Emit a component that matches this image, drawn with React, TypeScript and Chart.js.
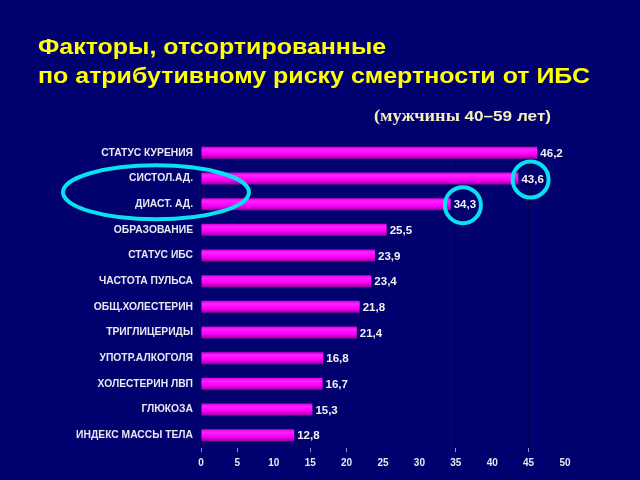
import React, { useEffect, useRef } from "react";
import { Chart, registerables } from "chart.js";

Chart.register(...registerables);

const categories = [
  "СТАТУС КУРЕНИЯ",
  "СИСТОЛ.АД.",
  "ДИАСТ. АД.",
  "ОБРАЗОВАНИЕ",
  "СТАТУС ИБС",
  "ЧАСТОТА ПУЛЬСА",
  "ОБЩ.ХОЛЕСТЕРИН",
  "ТРИГЛИЦЕРИДЫ",
  "УПОТР.АЛКОГОЛЯ",
  "ХОЛЕСТЕРИН ЛВП",
  "ГЛЮКОЗА",
  "ИНДЕКС МАССЫ ТЕЛА",
];
const values = [46.2, 43.6, 34.3, 25.5, 23.9, 23.4, 21.8, 21.4, 16.8, 16.7, 15.3, 12.8];
const circledIndices = [1, 2];
const ellipseIndices = [1, 2];
const titleLines = ["Факторы, отсортированные", "по атрибутивному риску смертности от ИБС"];
const subtitleSerif = "(мужчины ";
const subtitleSans = "40–59 лет)";
const xMin = 0;
const xMax = 50;
const xStep = 5;
const gridValues = [35, 45];
const tickMarkValues = [0, 5, 15, 20, 35, 45];

const BG = "#00006e";
const CYAN = "#08e2f0";
const LABEL = "#e8e8f2";
const SANS = "Arial, 'Liberation Sans', sans-serif";
const SERIF = "'Liberation Serif', 'Times New Roman', serif";

const fmt = (v: number) => v.toFixed(1).replace(".", ",");

const decorPlugin = {
  id: "decor",
  beforeDraw(chart: any) {
    const ctx = chart.ctx;
    ctx.save();
    ctx.fillStyle = BG;
    ctx.fillRect(0, 0, chart.width, chart.height);
    ctx.textBaseline = "alphabetic";
    ctx.textAlign = "left";
    // title
    ctx.fillStyle = "#ffff00";
    ctx.font = `bold 22px ${SANS}`;
    const tw = ctx.measureText(titleLines[1]).width;
    const sx = 552 / tw;
    ctx.save();
    ctx.translate(38, 0);
    ctx.scale(sx, 1);
    ctx.fillText(titleLines[0], 0, 54);
    ctx.fillText(titleLines[1], 0, 83);
    ctx.restore();
    // subtitle
    ctx.fillStyle = "#f4f0c0";
    ctx.font = `bold 16px ${SERIF}`;
    const w1 = ctx.measureText(subtitleSerif).width;
    ctx.font = `bold 15px ${SANS}`;
    const w2 = ctx.measureText(subtitleSans).width;
    const ss = 177 / (w1 + w2);
    ctx.save();
    ctx.translate(374, 0);
    ctx.scale(ss, 1);
    ctx.font = `bold 16px ${SERIF}`;
    ctx.fillText(subtitleSerif, 0, 121);
    ctx.font = `bold 15px ${SANS}`;
    ctx.fillText(subtitleSans, w1, 121);
    ctx.restore();
    ctx.restore();
  },
  afterDatasetsDraw(chart: any) {
    const ctx = chart.ctx;
    const meta = chart.getDatasetMeta(0);
    ctx.save();
    ctx.font = `bold 11.5px ${SANS}`;
    ctx.fillStyle = "#f2f2f2";
    ctx.textBaseline = "middle";
    ctx.textAlign = "left";
    const centers: number[] = [];
    meta.data.forEach((el: any, i: number) => {
      const t = fmt(values[i]);
      const x = el.x + 3;
      ctx.fillText(t, x, el.y + 1);
      centers[i] = x + ctx.measureText(t).width / 2;
    });
    ctx.strokeStyle = CYAN;
    ctx.lineWidth = 4;
    circledIndices.forEach((i) => {
      const el = meta.data[i];
      ctx.beginPath();
      ctx.arc(centers[i] - 2, el.y + 1, 18, 0, Math.PI * 2);
      ctx.stroke();
    });
    const ys = ellipseIndices.map((i) => meta.data[i].y);
    const cy = (ys[0] + ys[ys.length - 1]) / 2;
    ctx.beginPath();
    ctx.ellipse(156, cy + 1, 93, 27, 0, 0, Math.PI * 2);
    ctx.stroke();
    ctx.restore();
  },
};

export default function App() {
  const ref = useRef<HTMLCanvasElement>(null);
  useEffect(() => {
    if (!ref.current) return;
    const chart = new Chart(ref.current, {
      type: "bar",
      data: {
        labels: categories,
        datasets: [
          {
            data: values,
            backgroundColor: (c: any) => {
              const chartRef = c.chart;
              const ys = chartRef.scales?.y;
              if (!chartRef.chartArea || !ys) return "#ff00ff";
              const cy = ys.getPixelForValue(c.dataIndex);
              const g = chartRef.ctx.createLinearGradient(0, cy - 6, 0, cy + 6);
              g.addColorStop(0, "#d800d8");
              g.addColorStop(0.25, "#ff20ff");
              g.addColorStop(0.6, "#ff00ff");
              g.addColorStop(1, "#9a009a");
              return g;
            },
            borderWidth: 0,
            barPercentage: 0.47,
            categoryPercentage: 1,
          },
        ],
      },
      options: {
        indexAxis: "y",
        responsive: false,
        animation: false,
        layout: { padding: { top: 140, right: 75, left: 0, bottom: 0 } },
        plugins: { legend: { display: false }, tooltip: { enabled: false }, title: { display: false } },
        scales: {
          x: {
            min: xMin,
            max: xMax,
            ticks: {
              stepSize: xStep,
              color: LABEL,
              font: { family: SANS, size: 10, weight: "bold" },
              padding: 5,
            },
            grid: {
              color: (c: any) => (gridValues.includes(c.tick?.value) ? "#00004c" : "transparent"),
              tickColor: (c: any) => (tickMarkValues.includes(c.tick?.value) ? "#9090c0" : "transparent"),
              tickLength: 4,
              lineWidth: 1,
            },
            border: { display: false },
            afterFit: (s: any) => {
              s.height = 32;
            },
          },
          y: {
            ticks: {
              color: LABEL,
              font: { family: SANS, size: 10.3, weight: "bold" },
              padding: 8,
            },
            grid: { display: false, drawTicks: false },
            border: { display: false },
            afterFit: (s: any) => {
              s.width = 201;
            },
          },
        },
      },
      plugins: [decorPlugin],
    } as any);
    return () => chart.destroy();
  }, []);
  return (
    <div style={{ position: "fixed", left: 0, top: 0, width: 640, height: 480, background: BG }}>
      <canvas ref={ref} width={640} height={480} />
    </div>
  );
}
